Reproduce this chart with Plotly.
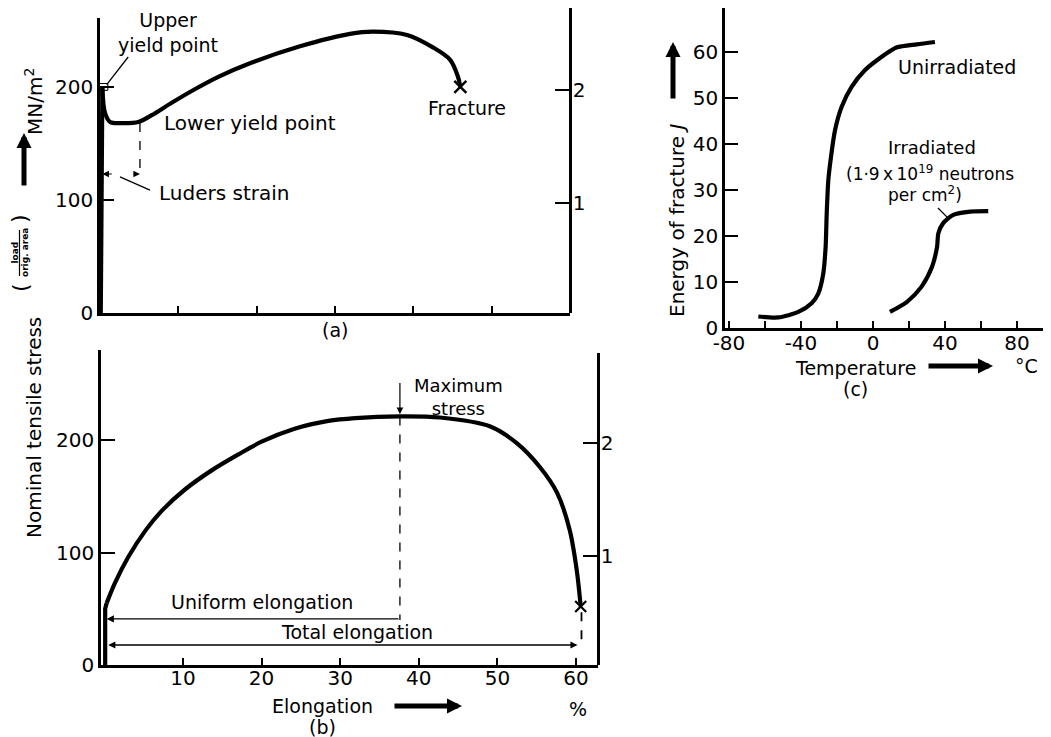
import plotly.graph_objects as go

# ---------------- data ----------------
# (a) yield-point steel: strain (arbitrary units) vs nominal stress (MN/m2)
a_strain = [0.010, 0.018, 0.030, 0.064, 0.128, 0.277, 0.49, 0.66, 0.915, 1.21, 1.51, 1.915, 2.553, 3.19, 3.485, 3.92, 4.25, 4.47, 4.57, 4.60]
a_stress = [0, 100, 199, 177, 169, 168, 169, 175, 186, 198, 209, 221, 236, 247, 249, 246, 235, 224, 209, 200]

# (b) ductile metal: elongation (%) vs nominal stress (MN/m2)
b_elong = [0.1, 0.1, 0.29, 1.35, 3.04, 5.17, 7.29, 10.25, 13.65, 17.0, 20.0, 24.2, 28.5, 31.9, 37.6, 42.7, 49.1, 52.5, 55.4, 57.6, 59.2, 60.1, 60.6]
b_stress = [0, 50, 55, 73, 96, 119, 137, 156, 173, 187, 198.5, 210, 217, 219.5, 221, 220, 212, 197, 176, 153, 120, 84, 52]

# (c) energy of fracture (J) vs temperature (degC)
c_unirr_T = [-63.7, -52.6, -41.5, -34.1, -30.4, -27.6, -26.3, -25.7, -24.8, -23.3, -21.1, -17.4, -11.8, -4.4, 1.1, 13, 24.4, 34.4]
c_unirr_E = [2.5, 2.3, 3.5, 5.4, 7.5, 11.9, 17.7, 25, 32.2, 37.3, 43, 48.1, 52.5, 56.1, 57.9, 61, 61.7, 62.2]
c_irr_T = [9.4, 18.9, 27, 32.8, 35.6, 36.3, 39, 44.6, 54, 64]
c_irr_E = [3.5, 5.7, 9, 13.3, 17.7, 20.6, 22.8, 24.6, 25.3, 25.4]

stress_ticks = [0, 100, 200]
right_ticks = [1, 2]
b_x_ticks = [10, 20, 30, 40, 50, 60]
c_x_ticks = [-80, -60, -40, -20, 0, 20, 40, 60, 80]
c_x_labels = ["-80", "", "-40", "", "0", "", "40", "", "80"]
c_y_ticks = [0, 10, 20, 30, 40, 50, 60]

W, H = 1051, 737
OFF = 8  # page body margin: figure is drawn 8px right and down
FONT = "DejaVu Sans"
FS = 19


def px(x):
    return (x - OFF) / W


def py(y):
    return 1 - (y - OFF) / H


fig = go.Figure()

LW = 4.2
# (a)
fig.add_trace(go.Scatter(x=a_strain[:3], y=a_stress[:3], mode="lines",
                         line=dict(color="black", width=LW), xaxis="x", yaxis="y"))
fig.add_trace(go.Scatter(x=a_strain[2:], y=a_stress[2:], mode="lines",
                         line=dict(color="black", width=LW, shape="spline", smoothing=0.9),
                         xaxis="x", yaxis="y"))
fig.add_trace(go.Scatter(x=[a_strain[-1]], y=[a_stress[-1]], mode="markers",
                         marker=dict(symbol="x-thin", size=12, line=dict(width=2.5, color="black")),
                         xaxis="x", yaxis="y"))
fig.add_trace(go.Scatter(x=[None], y=[None], xaxis="x", yaxis="y4", mode="lines"))

# (b)
fig.add_trace(go.Scatter(x=b_elong[:3], y=b_stress[:3], mode="lines",
                         line=dict(color="black", width=LW), xaxis="x2", yaxis="y2"))
fig.add_trace(go.Scatter(x=b_elong[2:], y=b_stress[2:], mode="lines",
                         line=dict(color="black", width=LW, shape="spline", smoothing=0.9),
                         xaxis="x2", yaxis="y2"))
fig.add_trace(go.Scatter(x=[b_elong[-1]], y=[b_stress[-1]], mode="markers",
                         marker=dict(symbol="x-thin", size=11, line=dict(width=2.2, color="black")),
                         xaxis="x2", yaxis="y2"))
fig.add_trace(go.Scatter(x=[None], y=[None], xaxis="x2", yaxis="y5", mode="lines"))

# (c)
fig.add_trace(go.Scatter(x=c_unirr_T, y=c_unirr_E, mode="lines",
                         line=dict(color="black", width=LW, shape="spline", smoothing=0.7),
                         xaxis="x3", yaxis="y3"))
fig.add_trace(go.Scatter(x=c_irr_T, y=c_irr_E, mode="lines",
                         line=dict(color="black", width=LW, shape="spline", smoothing=0.7),
                         xaxis="x3", yaxis="y3"))

axis_common = dict(showline=True, linecolor="black", linewidth=2.5, showgrid=False,
                   zeroline=False, ticks="inside", tickcolor="black", tickwidth=2,
                   automargin=False,
                   tickfont=dict(family=FONT, size=20, color="black"), fixedrange=True)

fig.update_layout(
    template="none",
    width=W, height=H, autosize=False,
    margin=dict(l=0, r=0, t=0, b=0, pad=0),
    paper_bgcolor="white", plot_bgcolor="rgba(0,0,0,0)",
    showlegend=False,
    font=dict(family=FONT, size=FS, color="black"),
    xaxis=dict(domain=[px(100), px(570)], range=[0, 6], anchor="y",
               tickvals=[1, 2, 3, 4, 5], showticklabels=False, ticklen=7, **axis_common),
    yaxis=dict(domain=[py(313), py(18)], range=[0, 261], anchor="x",
               tickvals=stress_ticks, ticklen=14, **axis_common),
    yaxis4=dict(domain=[py(313), py(8)], range=[0.027, 2.725], anchor="free",
                position=px(570), side="right", tickvals=right_ticks, ticklen=14,
                ticklabelstandoff=-3, **axis_common),
    xaxis2=dict(domain=[px(101), px(598)], range=[-0.43, 62.8], anchor="y2",
                tickvals=b_x_ticks, ticklen=7, ticklabelstandoff=-7, **axis_common),
    yaxis2=dict(domain=[py(665), py(350)], range=[0, 280], anchor="x2",
                tickvals=stress_ticks, ticklen=14, **axis_common),
    yaxis5=dict(domain=[py(665), py(353)], range=[0.035, 2.80], anchor="free",
                position=px(598), side="right", tickvals=right_ticks, ticklen=14,
                ticklabelstandoff=-3, **axis_common),
    xaxis3=dict(domain=[px(725), px(1048)], range=[-82.2, 97.2], anchor="y3",
                tickvals=c_x_ticks, ticktext=c_x_labels, ticklen=7, ticklabelstandoff=-5,
                **axis_common),
    yaxis3=dict(domain=[py(328), py(8)], range=[0, 69.6], anchor="x3",
                tickvals=c_y_ticks, ticklen=13, **axis_common),
)

shapes = []
ann = []


def dline(x0, y0, x1, y1, xr, yr, dash="solid", w=1.5):
    shapes.append(dict(type="line", x0=x0, y0=y0, x1=x1, y1=y1, xref=xr, yref=yr,
                       line=dict(color="black", width=w, dash=dash)))


def ptext(x, y, text, size=FS, angle=0, xanchor="center"):
    ann.append(dict(x=px(x), y=py(y), xref="paper", yref="paper", text=text, showarrow=False,
                    textangle=angle, xanchor=xanchor, yanchor="middle",
                    font=dict(family=FONT, size=size, color="black")))


def dtext(x, y, text, xr, yr, size=FS, xanchor="center"):
    ann.append(dict(x=x, y=y, xref=xr, yref=yr, text=text, showarrow=False,
                    xanchor=xanchor, yanchor="middle",
                    font=dict(family=FONT, size=size, color="black")))


def darrow(hx, hy, tx, ty, xr, yr, w=1.3, side="end", head=2, size=1.2):
    ann.append(dict(x=hx, y=hy, ax=tx, ay=ty, xref=xr, yref=yr, axref=xr, ayref=yr,
                    text="", showarrow=True, arrowhead=head, arrowsize=size, arrowwidth=w,
                    arrowcolor="black", arrowside=side, startarrowhead=head, startarrowsize=size))


def parrow(hx, hy, tx, ty, w=5, size=0.6):
    ann.append(dict(x=px(hx), y=py(hy), xref="paper", yref="paper", ax=tx - hx, ay=ty - hy,
                    axref="pixel", ayref="pixel", text="", showarrow=True, arrowhead=2,
                    arrowsize=size, arrowwidth=w, arrowcolor="black"))


# ---- shared y label for (a) and (b)
ptext(34, 428, "Nominal tensile stress", size=20, angle=-90)
ptext(20, 288, "(", size=22, angle=-90)
ptext(20, 219, ")", size=22, angle=-90)
ptext(14.5, 253, "<b>load</b>", size=9, angle=-90)
ptext(25, 253, "<b>orig. area</b>", size=9, angle=-90)
shapes.append(dict(type="line", xref="paper", yref="paper", x0=px(19.5), x1=px(19.5),
                   y0=py(230), y1=py(276), line=dict(color="black", width=1.2)))
parrow(24, 133, 24, 187)
ptext(34, 102, "MN/m<sup>2</sup>", size=20, angle=-90)

# ---- (a)
dtext(0.87, 248, "Upper<br>yield point", "x", "y")
dline(0.085, 202, 0.36, 226.5, "x", "y", w=1.3)
shapes.append(dict(type="rect", x0=-0.01, x1=0.10, y0=197, y1=203, xref="x", yref="y",
                   line=dict(color="black", width=1)))
dtext(0.79, 168, "Lower yield point", "x", "y", size=20, xanchor="left")
dline(0.51, 168, 0.51, 121, "x", "y", dash="dash", w=1.3)
darrow(0.03, 123, 0.17, 123, "x", "y", w=1.2, size=1.1)
darrow(0.51, 123, 0.41, 123, "x", "y", w=1.2, size=1.1)
dline(0.255, 120.4, 0.638, 108.8, "x", "y", w=1.3)
dtext(0.73, 106, "Luders strain", "x", "y", size=20, xanchor="left")
dtext(4.69, 181, "Fracture", "x", "y")
ptext(335, 330, "(a)")

# ---- (b)
dtext(45, 238, "Maximum<br>stress", "x2", "y2", size=18)
dline(37.6, 221, 37.6, 40, "x2", "y2", dash="dash", w=1.3)
darrow(37.6, 223, 37.6, 252, "x2", "y2", w=1.2, size=1.1)
darrow(0.3, 41, 37.6, 41, "x2", "y2", w=1.3, size=1.1)
darrow(60.2, 17.8, 0.3, 17.8, "x2", "y2", w=1.3, side="end+start", size=1.1)
dtext(20.0, 56, "Uniform elongation", "x2", "y2")
dtext(32.1, 29, "Total elongation", "x2", "y2")
dline(60.7, 47, 60.7, 18, "x2", "y2", dash="dash", w=1.8)
ptext(322, 706, "Elongation")
parrow(462, 706, 393, 706)
ptext(578, 709, "%")
ptext(322, 727, "(b)")

# ---- (c)
dtext(46.7, 56.7, "Unirradiated", "x3", "y3", size=19)
dtext(32.8, 39.3, "Irradiated", "x3", "y3", size=18)
dtext(31.7, 33.8, "(1·9\u2009x\u200910<sup>19</sup> neutrons", "x3", "y3", size=17)
dtext(28.9, 29.2, "per cm<sup>2</sup>)", "x3", "y3", size=17)
dline(36.1, 26.1, 41.7, 23.9, "x3", "y3", w=1.3)
ptext(677, 220, "Energy of fracture <i>J</i>", size=20, angle=-90)
parrow(673, 42, 673, 100)
ptext(855, 368, "Temperature")
parrow(993, 366, 927, 366)
ptext(1026, 366, "°C")
ptext(855, 389, "(c)")
shapes.append(dict(type="line", xref="paper", yref="paper", x0=px(1048), x1=px(1048),
                   y0=py(8), y1=py(329), line=dict(color="black", width=2.5)))

fig.update_layout(shapes=shapes, annotations=ann)
fig.write_html("out.html")
